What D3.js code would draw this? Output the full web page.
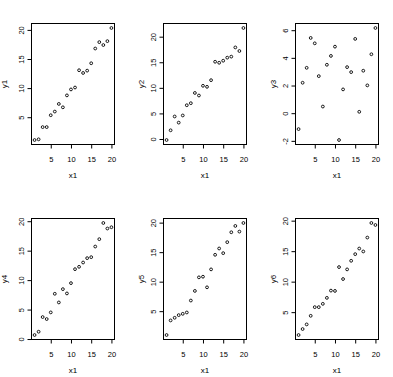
<!DOCTYPE html>
<html>
<head>
<meta charset="utf-8">
<script src="https://cdn.jsdelivr.net/npm/d3@7"></script>
<style>
  body { margin: 0; background: #fff; }
  text { font-family: "Liberation Sans", Arial, sans-serif; fill: #000; }
</style>
</head>
<body>
<div id="chart"></div>
<script>
// data
const x1 = [1, 2, 3, 4, 5, 6, 7, 8, 9, 10, 11, 12, 13, 14, 15, 16, 17, 18, 19, 20];
const y1 = [1.08, 1.2, 3.3, 3.3, 5.34, 5.97, 7.28, 6.7, 8.75, 9.77, 10.1, 13.07, 12.6, 13.0, 14.27, 16.8, 17.9, 17.4, 18.07, 20.33];
const y2 = [-0.2, 1.7, 4.4, 3.2, 4.6, 6.6, 7.0, 9.0, 8.5, 10.4, 10.2, 11.5, 15.1, 14.9, 15.3, 15.9, 16.1, 17.9, 17.2, 21.7];
const y3 = [-1.15, 2.2, 3.28, 5.44, 5.05, 2.68, 0.48, 3.5, 4.14, 4.81, -1.94, 1.72, 3.33, 2.97, 5.37, 0.1, 3.07, 2.01, 4.26, 6.16];
const y4 = [0.68, 1.24, 3.73, 3.39, 4.52, 7.68, 6.21, 8.47, 7.74, 9.49, 11.86, 12.26, 12.99, 13.73, 13.9, 15.7, 16.95, 19.7, 18.76, 18.98];
const y5 = [0.96, 3.43, 3.88, 4.33, 4.55, 4.78, 6.8, 8.43, 10.73, 10.84, 9.04, 12.08, 14.55, 15.62, 14.83, 16.69, 18.37, 19.44, 18.48, 19.94];
const y6 = [1.25, 2.23, 2.99, 4.4, 5.82, 5.82, 6.36, 7.34, 8.53, 8.48, 12.39, 10.43, 12.01, 13.42, 14.51, 15.43, 14.95, 17.23, 19.62, 19.29];

const series = [y1, y2, y3, y4, y5, y6];
const yNames = ["y1", "y2", "y3", "y4", "y5", "y6"];
const xTicks = [5, 10, 15, 20];
const yTicks = [
  [5, 10, 15, 20],
  [0, 5, 10, 15, 20],
  [-2, 0, 2, 4, 6],
  [0, 5, 10, 15, 20],
  [5, 10, 15, 20],
  [5, 10, 15, 20]
];

// plot box layout (R style mfrow 2x3)
const colX = [31.5, 163.5, 295.5],
      rowY = [23.5, 218.5],
      w = 83, h = 121,
      ylabOff = [-25, -20, -20];

const svg = d3.select("#chart").append("svg")
    .attr("width", 393)
    .attr("height", 377);

// R pads the data range by 4% on each side
function padded(arr) {
  const [lo, hi] = d3.extent(arr);
  const d = (hi - lo) * 0.04;
  return [lo - d, hi + d];
}

const x = d3.scaleLinear().domain(padded(x1)).range([0, w]);

series.forEach(function(ys, i) {
  const col = i % 3, row = Math.floor(i / 3);
  const y = d3.scaleLinear().domain(padded(ys)).range([h, 0]);

  const g = svg.append("g")
      .attr("transform", "translate(" + colX[col] + "," + rowY[row] + ")");

  // x axis
  const gx = g.append("g")
      .attr("transform", "translate(0," + h + ")")
      .call(d3.axisBottom(x).tickValues(xTicks).tickSize(4).tickPadding(8.5).tickFormat(String));
  gx.select(".domain").remove();
  gx.selectAll("text").style("font-size", "7.5px").style("font-family", null);

  // y axis, labels turned parallel to the axis
  const gy = g.append("g")
      .call(d3.axisLeft(y).tickValues(yTicks[i]).tickSize(4).tickFormat(String));
  gy.select(".domain").remove();
  gy.selectAll("text")
      .attr("x", null)
      .attr("dy", null)
      .attr("transform", "translate(-8,0) rotate(-90)")
      .attr("text-anchor", "middle")
      .style("font-size", "7.5px")
      .style("font-family", null);
  g.selectAll(".tick line").attr("stroke", "#000");

  // box
  g.append("rect")
      .attr("width", w)
      .attr("height", h)
      .attr("fill", "none")
      .attr("stroke", "#000")
      .attr("stroke-width", 1);

  // points
  g.selectAll("circle")
      .data(ys)
    .enter().append("circle")
      .attr("cx", (d, j) => x(x1[j]))
      .attr("cy", d => y(d))
      .attr("r", 1.4)
      .attr("fill", "none")
      .attr("stroke", "#000")
      .attr("stroke-width", 0.9);

  // axis titles
  g.append("text")
      .attr("x", w / 2)
      .attr("y", h + 33)
      .attr("text-anchor", "middle")
      .style("font-size", "8px")
      .text("x1");

  g.append("text")
      .attr("transform", "translate(" + ylabOff[col] + "," + (h / 2) + ") rotate(-90)")
      .attr("text-anchor", "middle")
      .style("font-size", "8px")
      .text(yNames[i]);
});
</script>
</body>
</html>
